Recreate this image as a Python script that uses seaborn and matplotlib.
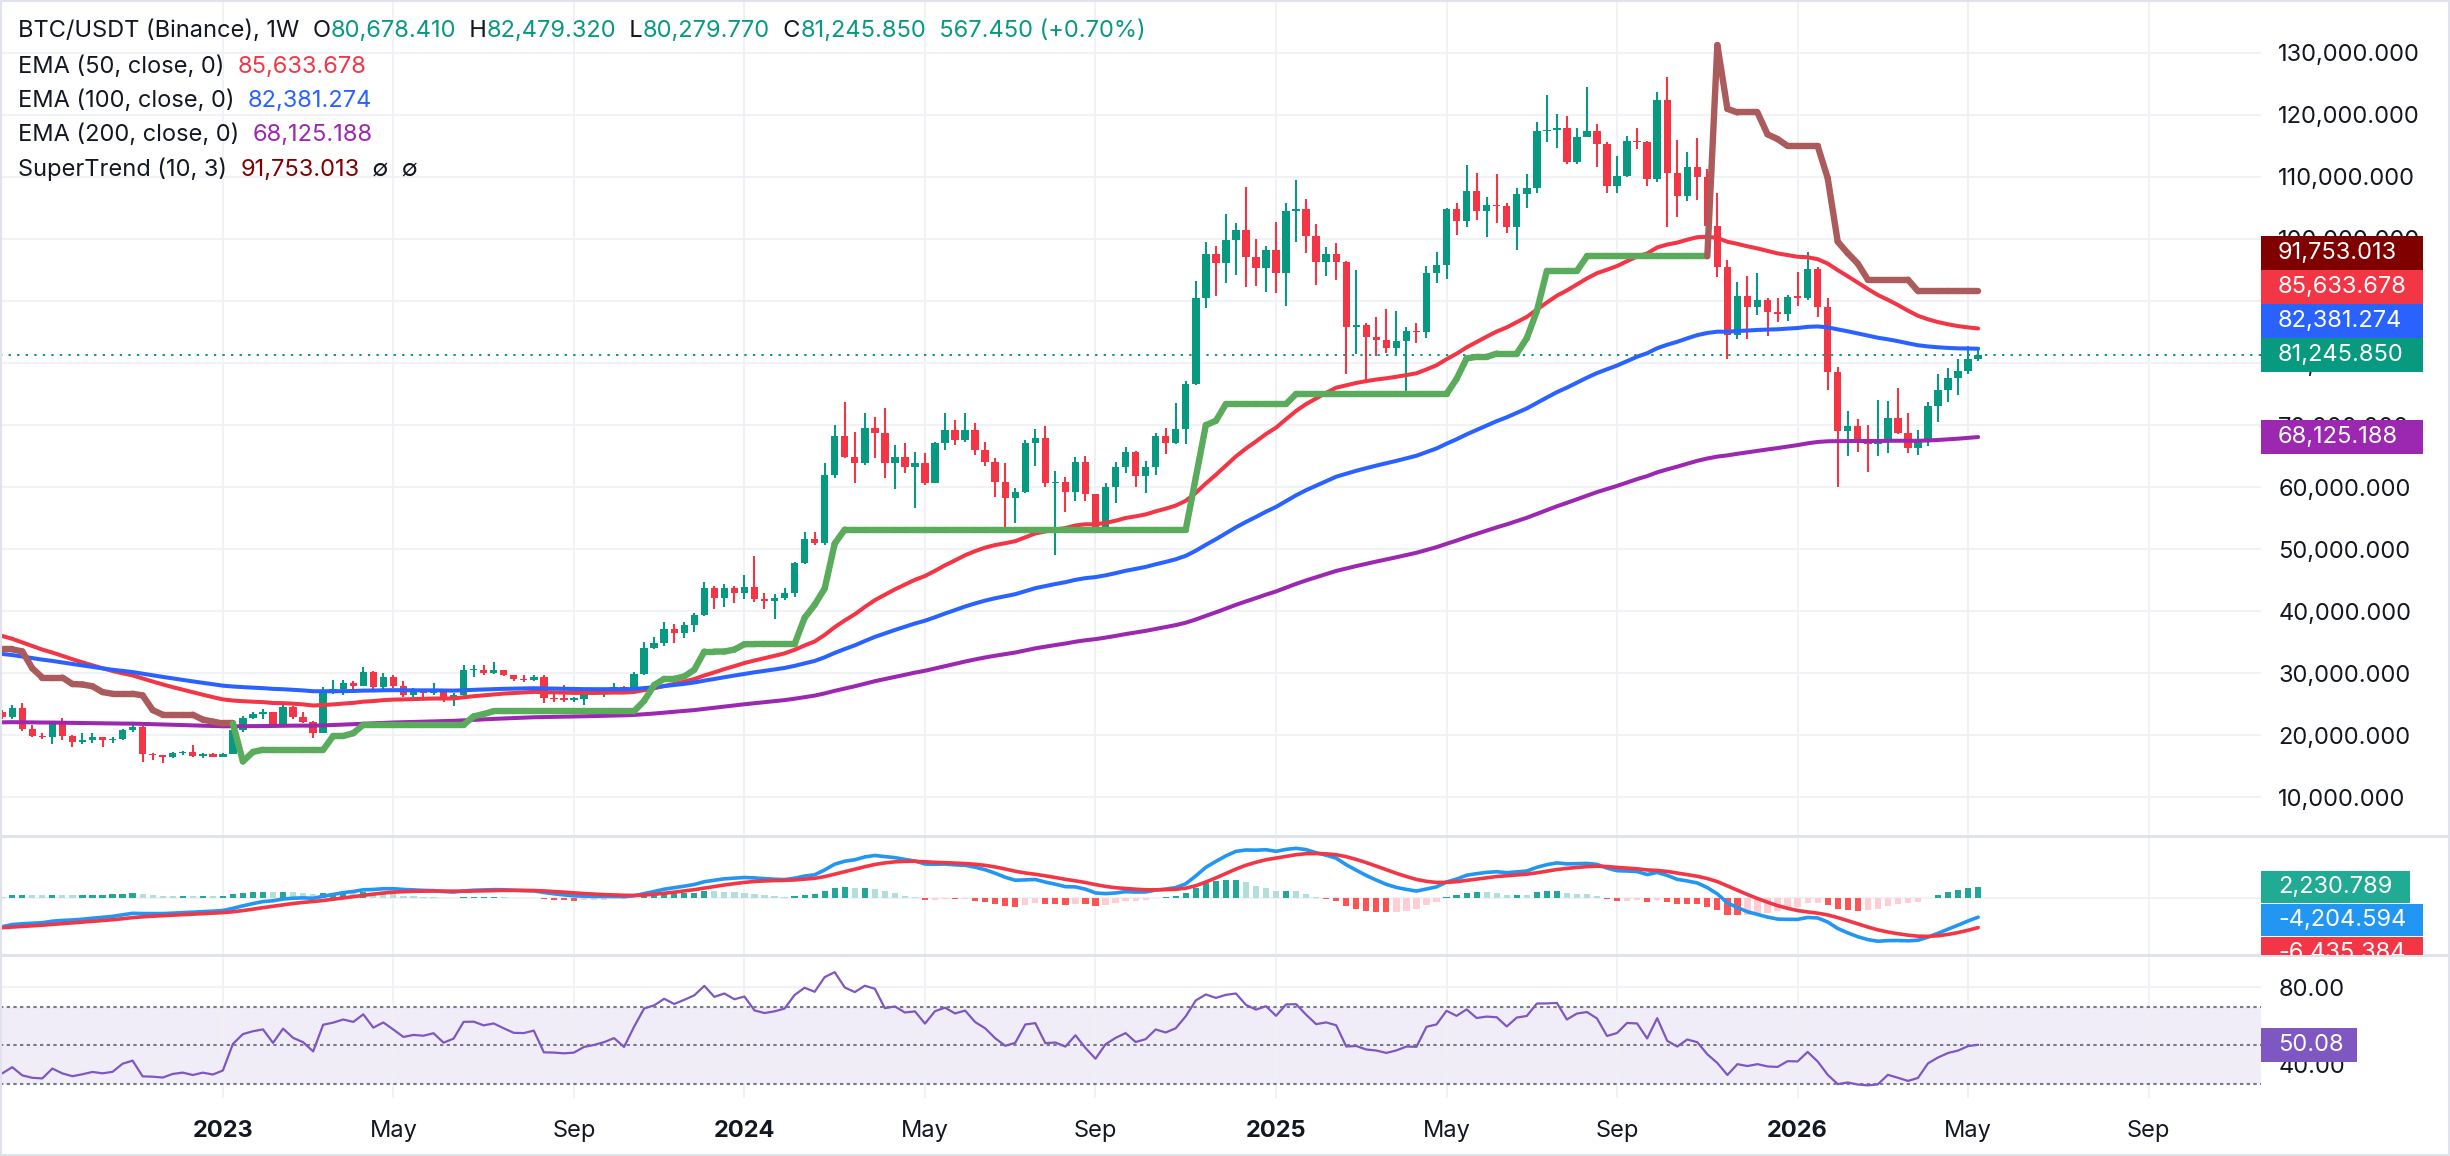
import numpy as np
import pandas as pd
import matplotlib
matplotlib.use("Agg")
import matplotlib.pyplot as plt
from matplotlib.patches import Rectangle
from matplotlib.collections import LineCollection
from matplotlib.offsetbox import TextArea, HPacker, AnchoredOffsetbox
import seaborn as sns

# weekly BTC/USDT candles, first bar = week of 2022-08-01
first_open = 23800
close = [22920, 24360, 21030, 19960, 19700, 21780, 19960, 18880, 19260, 19690,
         19250, 19500, 20870, 21400, 16950, 16840, 16570, 17110, 17300, 16690,
         17000, 16570, 17050, 20950, 22860, 23450, 23830, 21680, 24630, 23020,
         22215, 20400, 26780, 27425, 28390, 27960, 30270, 27850, 29360, 28000,
         26510, 27000, 26850, 27400, 25700, 26510, 30540, 30600, 30000, 30460,
         29730, 29040, 29000, 29460, 25980, 25930, 25800, 25900, 26670, 26950,
         27320, 27860, 26780, 29840, 34030, 34950, 37100, 36450, 37790, 39400,
         43700, 42200, 43700, 42900, 43970, 42000, 41600, 42100, 42900, 47840,
         51600, 51000, 61970, 68250, 64920, 63850, 69490, 68790, 63850, 64920,
         63310, 63900, 60620, 67070, 69220, 67610, 69220, 66000, 64120, 60890,
         58200, 59280, 67180, 67880, 60620, 60890, 59280, 64000, 58850, 53640,
         59980, 63200, 65730, 61810, 63200, 68300, 67070, 69330, 76630, 90440,
         97580, 96190, 99840, 101450, 97150, 95270, 98230, 94470, 104510, 104780,
         100480, 96350, 97580, 96350, 85870, 86140, 84260, 83720, 82490, 83560,
         85170, 85050, 94470, 95810, 104830, 102950, 107740, 104510, 105480, 105250,
         101990, 107250, 108270, 117460, 117570, 117940, 112460, 116390, 117410, 115260,
         108600, 110150, 115790, 115600, 109620, 122400, 110580, 106980, 111550, 109940,
         102150, 95540, 84530, 90810, 89100, 90170, 88290, 87910, 90710, 90550,
         95110, 89100, 78620, 69110, 69860, 67770, 66910, 67300, 71100, 68790,
         66260, 67340, 73090, 75660, 77650, 78730, 80678.41, 81245.85]
high = [24100, 24900, 25170, 21680, 20440, 21950, 22750, 20070, 20330, 20330,
        19800, 19700, 21030, 21680, 21450, 17220, 16900, 17380, 17540, 18450,
        17110, 17100, 17150, 21400, 23180, 23720, 24250, 23830, 25060, 24740,
        23825, 22300, 27750, 28930, 28930, 28820, 31080, 30450, 29999, 29800,
        28820, 27590, 27430, 28390, 27425, 26780, 31350, 31350, 31350, 31880,
        30500, 29730, 29730, 29730, 29730, 26800, 28120, 26200, 27420, 27430,
        27590, 28500, 28000, 30270, 35110, 35910, 38220, 37900, 38330, 39670,
        44670, 44080, 44400, 44080, 45850, 48910, 43000, 42800, 43820, 48000,
        52730, 52850, 63850, 70030, 73790, 68950, 71900, 71370, 72700, 66800,
        67070, 65700, 65460, 67340, 72010, 70830, 72010, 70290, 67340, 64650,
        63850, 59950, 67610, 69330, 69920, 62660, 61700, 64920, 65030, 58900,
        60620, 64010, 66530, 65830, 64280, 68790, 69590, 73620, 77170, 93230,
        99570, 98870, 104030, 102630, 108330, 99950, 98870, 102790, 105750, 109510,
        106450, 102420, 98660, 99300, 96500, 95000, 86400, 87480, 88720, 88400,
        85870, 86400, 95650, 97850, 104940, 105860, 111930, 110690, 106720, 110480,
        105750, 108270, 110480, 118910, 123210, 120150, 119820, 117840, 124440, 118530,
        115690, 113380, 116600, 117840, 115800, 123740, 126160, 115960, 113970, 116220,
        111230, 107360, 96620, 93120, 94040, 94470, 90550, 90440, 90980, 94630,
        97850, 95440, 90440, 79320, 72280, 70940, 70020, 74050, 73890, 76040,
        71900, 69220, 73680, 78190, 79260, 80660, 82760, 82479.32]
low = [22700, 22700, 20760, 19800, 19500, 18560, 19260, 18190, 18560, 18830,
       18200, 18830, 19230, 20600, 15660, 16030, 15500, 16300, 16840, 16570,
       16300, 16460, 16500, 17000, 20600, 22590, 22590, 21570, 21400, 22590,
       21945, 19630, 20400, 26670, 26510, 27050, 27900, 27470, 27470, 27700,
       26240, 26250, 26240, 26510, 25400, 24800, 26250, 29470, 29730, 29900,
       29500, 28820, 28650, 28820, 25280, 25400, 25400, 25400, 24900, 26520,
       26130, 27300, 26700, 26720, 29730, 33870, 34460, 34850, 35640, 36720,
       39300, 40320, 40640, 41400, 41930, 41500, 40320, 38700, 41800, 42250,
       47600, 50700, 50700, 61430, 64700, 60620, 63500, 64650, 61430, 59650,
       62340, 56600, 60360, 60600, 66000, 66800, 67340, 65190, 63420, 58480,
       53640, 54280, 59000, 63420, 60090, 49070, 56060, 57830, 57830, 52570,
       53300, 57510, 62340, 59980, 59010, 61970, 65350, 66900, 66910, 76500,
       88830, 90870, 92960, 94200, 92320, 92430, 91510, 91240, 89260, 99570,
       97800, 92590, 94040, 93390, 78240, 81470, 76740, 81200, 81570, 81300,
       74590, 83190, 83990, 92860, 93500, 100650, 101990, 103060, 100380, 102630,
       100910, 98230, 105050, 107470, 115690, 114720, 112030, 112030, 116390, 111660,
       107360, 107360, 110050, 114450, 108600, 109240, 101990, 103600, 106180, 106290,
       98950, 93930, 80610, 83900, 83830, 87750, 84420, 86570, 86840, 89260,
       90170, 87380, 75660, 60090, 65030, 65730, 62500, 65030, 65570, 68520,
       65570, 65190, 66690, 70560, 73790, 74860, 78190, 80279.77]

# indicator state one bar before the first visible bar
ema_seeds = {50: 36550, 100: 33330, 200: 22100}
macd_seeds = (24600, 31170, -6490)   # ema12, ema26, signal
rsi_seeds = (800, 1400)              # avg gain, avg loss
st_seeds = (3800, 33870)             # atr, upper band

# last values printed by the chart
legend_ohlc = ["80,678.410", "82,479.320", "80,279.770", "81,245.850", "567.450 (+0.70%)"]
ema_last = {50: 85633.678, 100: 82381.274, 200: 68125.188}
st_last = 91753.013
macd_last = (2230.789, -4204.594, -6435.384)   # hist, macd, signal
rsi_last = 50.08

UP, DOWN = "#089981", "#f23645"
C_EMA = {50: "#f23645", 100: "#2962ff", 200: "#9c27b0"}
TXT = "#131722"
FS = 17

c = np.array(close, float)
h = np.array(high, float)
l = np.array(low, float)
o = np.concatenate([[first_open], c[:-1]])
n = len(c)
bars = np.arange(n)


def ema(x, span, seed):
    a = 2 / (span + 1)
    out, prev = np.empty(len(x)), seed
    for i, v in enumerate(x):
        prev = prev + a * (v - prev)
        out[i] = prev
    return out


def rma(x, length, seed):
    out, prev = np.empty(len(x)), seed
    for i, v in enumerate(x):
        prev = prev + (v - prev) / length
        out[i] = prev
    return out


emas = {k: ema(c, k, s) for k, s in ema_seeds.items()}

macd = ema(c, 12, macd_seeds[0]) - ema(c, 26, macd_seeds[1])
signal = ema(macd, 9, macd_seeds[2])
hist = macd - signal
prev_hist = np.concatenate([[hist[0]], hist[:-1]])
hist_col = np.where(hist >= 0,
                    np.where(hist > prev_hist, "#26a69a", "#b2dfdb"),
                    np.where(hist > prev_hist, "#ffcdd2", "#ff5252"))

chg = c - o
avg_gain = rma(np.clip(chg, 0, None), 14, rsi_seeds[0])
avg_loss = rma(np.clip(-chg, 0, None), 14, rsi_seeds[1])
rsi = 100 - 100 / (1 + avg_gain / avg_loss)

# supertrend (10, 3)
tr = np.maximum(h - l, np.maximum(abs(h - o), abs(l - o)))
atr = rma(tr, 10, st_seeds[0])
hl2 = (h + l) / 2
st = np.empty(n)
trend = np.empty(n, int)
pu, pl, ptrend, pc = st_seeds[1], 0.0, -1, first_open
for i in range(n):
    bu, bl = hl2[i] + 3 * atr[i], hl2[i] - 3 * atr[i]
    u = bu if (bu < pu or pc > pu) else pu
    lo = bl if (bl > pl or pc < pl) else pl
    if ptrend == -1:
        t = 1 if c[i] > u else -1
    else:
        t = -1 if c[i] < lo else 1
    st[i] = lo if t == 1 else u
    trend[i] = t
    pu, pl, ptrend, pc = u, lo, t, c[i]

# ---------------------------------------------------------------- figure
sns.set_theme(style="white")
plt.rcParams["font.family"] = ["Inter", "DejaVu Sans"]

W, H = 2450, 1156
fig = plt.figure(figsize=(W / 100, H / 100), dpi=100)
fig.patch.set_facecolor("white")


def rect(x0, y_top, x1, y_bot):
    return [x0 / W, 1 - y_bot / H, (x1 - x0) / W, (y_bot - y_top) / H]


PLOT_R = 2261
ax = fig.add_axes(rect(0, 0, PLOT_R, 836))
ax_m = fig.add_axes(rect(0, 836, PLOT_R, 955), sharex=ax)
ax_r = fig.add_axes(rect(0, 955, PLOT_R, 1098), sharex=ax)

# time scale: Jan / May / Sep marks from the first new year on
dates = pd.date_range("2022-08-01", periods=226, freq="W-MON")
new_month = np.r_[True, dates.month[1:] != dates.month[:-1]]
first_jan = next(i for i in range(len(dates)) if new_month[i] and dates[i].month == 1)
tick_pos = [i for i in range(first_jan, len(dates)) if new_month[i] and dates[i].month in (1, 5, 9)]
tick_lab = [str(dates[i].year) if dates[i].month == 1 else dates[i].strftime("%b") for i in tick_pos]

GRID = "#eff1f4"
for a in (ax, ax_m, ax_r):
    a.set_facecolor("white")
    for s in a.spines.values():
        s.set_visible(False)
    a.set_xlim(-0.22, 225.2)
    a.set_xticks(tick_pos)
    a.grid(axis="x", color=GRID, lw=1.3)
    a.set_axisbelow(True)
    a.tick_params(length=0)

# candles
col = np.where(c >= o, UP, DOWN)
ax.vlines(bars, l, h, colors=col, lw=1.5, zorder=2)
body = np.maximum(abs(c - o), 220)
ax.bar(bars, body, bottom=np.minimum(o, c) - (body - abs(c - o)) / 2, width=0.74,
       color=col, lw=0, zorder=2)

ema_df = pd.DataFrame({"bar": bars, **{f"EMA {k}": v for k, v in emas.items()}})
ema_long = ema_df.melt("bar", var_name="line", value_name="value")
sns.lineplot(data=ema_long, x="bar", y="value", hue="line",
             palette={f"EMA {k}": C_EMA[k] for k in emas}, lw=2.9,
             legend=False, ax=ax, zorder=4)

segs = [[(i - 1, st[i - 1]), (i, st[i])] for i in range(1, n)]
seg_col = ["#5aab5c" if trend[i] == 1 else "#ab5b5b" for i in range(1, n)]
ax.add_collection(LineCollection(segs, colors=seg_col, lw=4.6, capstyle="round",
                                 joinstyle="round", zorder=5))

ax.axhline(c[-1], color=UP, lw=1.4, ls=(0, (1.2, 3.2)), zorder=3)
ax.set_ylim(3787, 138517)
ax.set_yticks(range(10000, 130001, 10000))
ax.yaxis.tick_right()
ax.tick_params(axis="y", labelright=True, labelleft=False, pad=12.5, labelsize=FS, labelcolor=TXT)
ax.set_yticklabels([f"{v:,.3f}" for v in range(10000, 130001, 10000)])
ax.grid(axis="y", color=GRID, lw=1.3)
ax.tick_params(axis="x", labelbottom=False)
ax.set_xlabel("")
ax.set_ylabel("")

# MACD pane
ax_m.bar(bars, hist, width=0.62, color=hist_col, lw=0, zorder=2)
macd_df = pd.DataFrame({"bar": np.r_[bars, bars], "value": np.r_[macd, signal],
                        "line": ["MACD"] * n + ["Signal"] * n})
sns.lineplot(data=macd_df, x="bar", y="value", hue="line",
             palette={"MACD": "#2196f3", "Signal": "#f23645"}, lw=2.6,
             legend=False, ax=ax_m, zorder=3)
ax_m.axhline(0, color=GRID, lw=1.3, zorder=1)
ax_m.set_ylim(-12290, 13235)
ax_m.set_yticks([])
ax_m.tick_params(axis="x", labelbottom=False)
ax_m.set_xlabel("")
ax_m.set_ylabel("")

# RSI pane
ax_r.axhspan(30, 70, color="#7e57c2", alpha=0.1, lw=0, zorder=0)
for lvl in (30, 50, 70):
    ax_r.axhline(lvl, color="#787b86", lw=1.5, ls=(0, (1.6, 1.6)), zorder=1)
sns.lineplot(x=bars, y=rsi, color="#7e57c2", lw=1.6, ax=ax_r, zorder=3)
ax_r.set_ylim(22.5, 96.75)
ax_r.set_yticks([40, 80])
ax_r.set_yticklabels(["40.00", "80.00"])
ax_r.yaxis.tick_right()
ax_r.grid(axis="y", color=GRID, lw=1.3)
ax_r.tick_params(axis="y", labelright=True, labelleft=False, pad=12.5, labelsize=FS, labelcolor=TXT)
ax_r.set_xticklabels(tick_lab)
ax_r.tick_params(axis="x", pad=16, labelsize=FS, labelcolor=TXT)
for lab, pos in zip(ax_r.get_xticklabels(), tick_pos):
    if dates[pos].month == 1:
        lab.set_fontweight("bold")
ax_r.set_xlabel("")
ax_r.set_ylabel("")

# pane separators and frame
for y in (836, 955):
    fig.add_artist(plt.Line2D([0, 1], [1 - y / H] * 2, color="#e0e3eb", lw=2.2, transform=fig.transFigure))
fig.add_artist(Rectangle((0.0005, 0.001), 0.999, 0.998, transform=fig.transFigure,
                         fill=False, edgecolor="#e0e3eb", lw=1.5))


# legends
def legend_row(parts, y_px):
    kids = [TextArea(s, textprops=dict(color=cc, fontsize=FS)) for s, cc in parts]
    box = HPacker(children=kids, align="baseline", pad=0, sep=0)
    ab = AnchoredOffsetbox(loc="center left", child=box, pad=0, borderpad=0, frameon=False,
                           bbox_to_anchor=(18 / W, 1 - y_px / H), bbox_transform=fig.transFigure)
    ab.set_zorder(10)
    ax.add_artist(ab)


legend_row([("BTC/USDT (Binance), 1W  ", TXT), ("O", TXT), (legend_ohlc[0], UP),
            ("  H", TXT), (legend_ohlc[1], UP), ("  L", TXT), (legend_ohlc[2], UP),
            ("  C", TXT), (legend_ohlc[3], UP), ("  " + legend_ohlc[4], UP)], 31)
for k, y in zip((50, 100, 200), (67, 101, 135)):
    legend_row([(f"EMA ({k}, close, 0)  ", TXT), (f"{ema_last[k]:,.3f}", C_EMA[k])], y)
legend_row([("SuperTrend (10, 3)  ", TXT), (f"{st_last:,.3f}", "#800000"), ("  \u2205  \u2205", TXT)], 169)
legend_row([("MACD (12, 26, close, 9)  ", TXT), (f"{macd_last[0]:,.3f}", "#22ab94"),
            ("  ", TXT), (f"{macd_last[1]:,.3f}", "#2196f3"), ("  ", TXT),
            (f"{macd_last[2]:,.3f}", "#f23645")], 867)
legend_row([("RSI (14)  ", TXT), (f"{rsi_last:.2f}", "#7e57c2")], 990)


# value boxes on the price scale
def to_px(a, v):
    return H - a.transData.transform((0, v))[1]


def value_box(y_c, text, color, hgt=34, clip=None):
    wid = 29 + 13.3 * len(text)
    r = Rectangle((PLOT_R / W, 1 - (y_c + hgt / 2) / H), wid / W, hgt / H,
                  transform=fig.transFigure, facecolor=color, edgecolor="none", zorder=5)
    fig.add_artist(r)
    t = fig.text(2278 / W, 1 - y_c / H, text, color="white", va="center", ha="left",
                 fontsize=FS, zorder=6)
    if clip is not None:
        r.set_clip_path(clip)
        t.set_clip_on(True)
        t.set_clip_path(clip)


main_boxes = [(ema_last[200], C_EMA[200]), (c[-1], UP), (ema_last[100], C_EMA[100]),
              (ema_last[50], C_EMA[50]), (st_last, "#800000")]
prev = 1e9
for v, cc in sorted(main_boxes, key=lambda p: p[0]):
    y = min(to_px(ax, v), prev - 34)
    value_box(y, f"{v:,.3f}", cc)
    prev = y

clip_m = Rectangle((PLOT_R / W, 1 - 955 / H), 1 - PLOT_R / W, (955 - 837) / H, transform=fig.transFigure)
prev = -1e9
for v, cc in [(macd_last[0], "#22ab94"), (macd_last[1], "#2196f3"), (macd_last[2], "#f23645")]:
    y = max(to_px(ax_m, v), prev + 33)
    value_box(y, f"{v:,.3f}", cc, hgt=32, clip=clip_m)
    prev = y
value_box(to_px(ax_r, rsi_last), f"{rsi_last:.2f}", "#7e57c2")

fig.savefig("out.png", dpi=100)
